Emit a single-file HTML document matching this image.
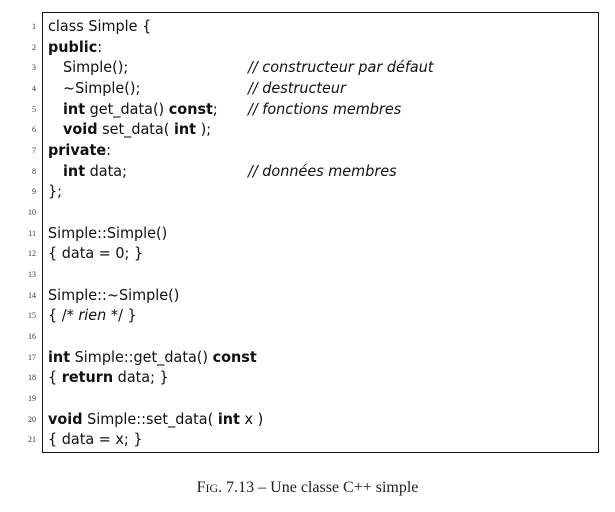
<!DOCTYPE html>
<html><head><meta charset="utf-8"><style>
body{margin:0;width:615px;height:512px;background:#fff;position:relative;overflow:hidden;font-family:"DejaVu Sans","Liberation Sans",sans-serif;color:#111}
.box{position:absolute;left:42px;top:12px;width:557px;height:441px;border:1.5px solid #111;box-sizing:border-box}
.l{position:absolute;left:48px;font-size:15px;line-height:20px;white-space:pre;transform:scaleX(0.96);transform-origin:left}
.i{left:63px}
.n{position:absolute;width:36px;left:0;text-align:right;font-size:8px;line-height:20px;font-family:"Liberation Serif",serif;color:#333}
.c{position:absolute;left:248px;font-size:15px;line-height:20px;font-style:italic;white-space:pre;transform:scaleX(0.96);transform-origin:left}
b{font-weight:bold}
.cap{position:absolute;top:479px;left:0;width:615px;text-align:center;font-family:"Liberation Serif",serif;font-size:16px;color:#222}
</style></head><body>
<div class="box"></div>
<div class="n" style="top:17px">1</div><div class="l" style="top:16px">class Simple {</div>
<div class="n" style="top:38px">2</div><div class="l" style="top:37px"><b>public</b>:</div>
<div class="n" style="top:58px">3</div><div class="l i" style="top:57px">Simple();</div><div class="c" style="top:57px">// constructeur par défaut</div>
<div class="n" style="top:79px">4</div><div class="l i" style="top:78px">~Simple();</div><div class="c" style="top:78px">// destructeur</div>
<div class="n" style="top:100px">5</div><div class="l i" style="top:99px"><b>int</b> get_data() <b>const</b>;</div><div class="c" style="top:99px">// fonctions membres</div>
<div class="n" style="top:120px">6</div><div class="l i" style="top:119px"><b>void</b> set_data( <b>int</b> );</div>
<div class="n" style="top:141px">7</div><div class="l" style="top:140px"><b>private</b>:</div>
<div class="n" style="top:162px">8</div><div class="l i" style="top:161px"><b>int</b> data;</div><div class="c" style="top:161px">// données membres</div>
<div class="n" style="top:182px">9</div><div class="l" style="top:181px">};</div>
<div class="n" style="top:203px">10</div>
<div class="n" style="top:224px">11</div><div class="l" style="top:223px">Simple::Simple()</div>
<div class="n" style="top:244px">12</div><div class="l" style="top:243px">{ data = 0; }</div>
<div class="n" style="top:265px">13</div>
<div class="n" style="top:286px">14</div><div class="l" style="top:285px">Simple::~Simple()</div>
<div class="n" style="top:306px">15</div><div class="l" style="top:305px">{ /* <i>rien</i> */ }</div>
<div class="n" style="top:327px">16</div>
<div class="n" style="top:348px">17</div><div class="l" style="top:347px"><b>int</b> Simple::get_data() <b>const</b></div>
<div class="n" style="top:368px">18</div><div class="l" style="top:367px">{ <b>return</b> data; }</div>
<div class="n" style="top:389px">19</div>
<div class="n" style="top:410px">20</div><div class="l" style="top:409px"><b>void</b> Simple::set_data( <b>int</b> x )</div>
<div class="n" style="top:430px">21</div><div class="l" style="top:429px">{ data = x; }</div>
<div class="cap"><span>F<span style="font-size:12px">IG</span>.</span> 7.13 – Une classe C++ simple</div>
</body></html>
